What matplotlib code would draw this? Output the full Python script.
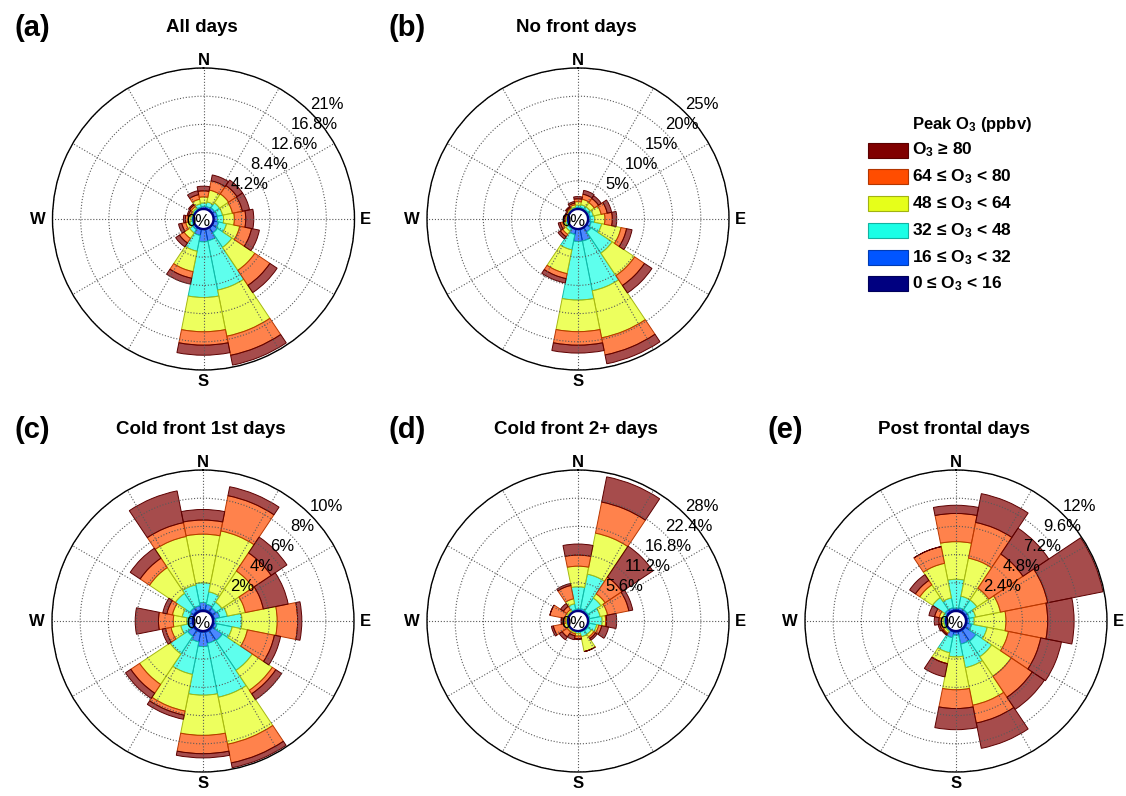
import numpy as np
import matplotlib
matplotlib.use("Agg")
import matplotlib.pyplot as plt
from matplotlib.colors import to_rgb
from matplotlib.patches import Rectangle

plt.rcParams['font.family'] = ['Liberation Sans', 'DejaVu Sans']
plt.rcParams['mathtext.default'] = 'regular'

W, H = 1126, 796

dirs = ["N", "NNE", "NE", "ENE", "E", "ESE", "SE", "SSE",
        "S", "SSW", "SW", "WSW", "W", "WNW", "NW", "NNW"]
# classes, inner to outer
classes = ["0 \u2264 O$_3$ < 16", "16 \u2264 O$_3$ < 32", "32 \u2264 O$_3$ < 48",
           "48 \u2264 O$_3$ < 64", "64 \u2264 O$_3$ < 80", "O$_3$ \u2265 80"]
class_colors = ["#000080", "#0055ff", "#1affe6", "#e6ff1a", "#ff4d00", "#800000"]

# cumulative frequency (%) at the outer edge of each class, one row per direction
all_days = [
    [0.1, 0.4, 0.9, 1.8, 2.7, 3.4],
    [0.1, 0.4, 1.1, 2.9, 4.3, 5.2],
    [0.1, 0.5, 1.4, 3.0, 4.5, 5.5],
    [0.1, 0.6, 1.4, 2.9, 4.4, 5.5],
    [0.1, 0.6, 1.5, 3.1, 4.8, 6.0],
    [0.1, 0.8, 2.0, 4.0, 5.8, 7.0],
    [0.1, 1.0, 3.6, 7.7, 10.4, 11.7],
    [0.1, 1.8, 9.3, 16.3, 19.2, 20.7],
    [0.1, 1.9, 10.2, 15.3, 17.3, 18.8],
    [0.1, 1.0, 3.4, 6.5, 7.5, 8.4],
    [0.1, 0.4, 1.0, 2.0, 2.8, 3.5],
    [0.05, 0.2, 0.6, 1.2, 1.8, 2.3],
    [0.05, 0.15, 0.4, 0.8, 1.2, 1.5],
    [0.05, 0.1, 0.3, 0.5, 0.8, 1.0],
    [0.05, 0.15, 0.4, 0.7, 1.0, 1.2],
    [0.05, 0.3, 0.8, 1.5, 2.2, 2.8],
]
no_front = [
    [0.05, 0.3, 0.7, 1.3, 1.8, 2.2],
    [0.05, 0.3, 0.8, 1.8, 2.7, 3.4],
    [0.05, 0.3, 0.8, 1.7, 2.6, 3.2],
    [0.05, 0.4, 1.0, 2.4, 3.5, 4.3],
    [0.05, 0.4, 1.2, 3.0, 4.3, 5.1],
    [0.1, 0.6, 2.5, 6.0, 7.0, 8.0],
    [0.1, 1.0, 5.5, 10.3, 12.4, 14.0],
    [0.1, 2.2, 11.2, 19.7, 22.8, 24.4],
    [0.1, 2.2, 12.6, 18.2, 20.6, 22.0],
    [0.1, 1.0, 3.8, 8.1, 9.0, 9.8],
    [0.05, 0.3, 0.8, 1.5, 2.0, 2.5],
    [0.05, 0.2, 0.5, 1.0, 1.4, 1.8],
    [0.05, 0.1, 0.3, 0.5, 0.6, 0.8],
    [0.05, 0.1, 0.2, 0.4, 0.5, 0.6],
    [0.05, 0.1, 0.3, 0.5, 0.7, 0.9],
    [0.05, 0.2, 0.4, 0.8, 1.1, 1.4],
]
cold_front_1st = [
    [0.1, 0.6, 2.0, 5.45, 6.45, 7.2],
    [0.1, 0.5, 1.4, 5.8, 8.35, 9.0],
    [0.1, 0.4, 0.9, 3.55, 5.1, 6.45],
    [0.1, 0.5, 1.05, 2.35, 3.65, 5.45],
    [0.05, 0.2, 2.05, 4.55, 6.0, 6.3],
    [0.1, 0.3, 1.4, 2.5, 4.45, 4.9],
    [0.1, 0.95, 3.5, 5.2, 5.5, 6.0],
    [0.1, 0.9, 4.8, 8.2, 9.55, 9.9],
    [0.1, 1.1, 4.55, 7.4, 8.7, 9.0],
    [0.1, 0.8, 3.15, 5.8, 6.1, 6.4],
    [0.1, 0.6, 2.1, 4.7, 5.45, 5.9],
    [0.05, 0.3, 0.9, 1.6, 2.0, 2.25],
    [0.05, 0.3, 0.45, 1.4, 2.45, 4.1],
    [0.05, 0.3, 0.8, 1.5, 1.9, 2.2],
    [0.1, 0.4, 1.65, 3.85, 4.65, 5.5],
    [0.1, 0.4, 1.9, 5.4, 6.4, 8.7],
]
cold_front_2plus = [
    [0.1, 0.4, 4.8, 8.9, 11.1, 13.3],
    [0.1, 0.5, 7.5, 15.8, 22.1, 27.2],
    [0.1, 0.4, 3.5, 4.5, 8.5, 15.9],
    [0.1, 0.4, 2.5, 4.0, 8.3, 9.1],
    [0.05, 0.3, 2.8, 3.5, 3.7, 5.7],
    [0.05, 0.3, 1.8, 2.2, 2.8, 4.2],
    [0.05, 0.3, 1.2, 1.8, 2.2, 2.6],
    [0.05, 0.2, 1.2, 4.2, 4.2, 4.2],
    [0.05, 0.1, 0.5, 1.0, 1.5, 1.7],
    [0.05, 0.1, 0.3, 0.6, 1.0, 1.8],
    [0.05, 0.1, 0.3, 0.6, 1.8, 2.5],
    [0.05, 0.1, 0.3, 0.8, 3.0, 3.4],
    [0.05, 0.1, 0.3, 0.6, 1.2, 1.4],
    [0.05, 0.1, 0.3, 0.7, 3.7, 3.7],
    [0.05, 0.1, 0.3, 0.7, 1.5, 2.2],
    [0.05, 0.3, 1.5, 2.5, 5.2, 5.6],
]
post_frontal = [
    [0.1, 0.25, 2.7, 5.9, 8.3, 9.0],
    [0.1, 0.3, 1.3, 4.6, 7.7, 10.2],
    [0.1, 0.3, 1.3, 2.5, 6.0, 8.65],
    [0.1, 0.3, 0.85, 3.0, 7.1, 11.9],
    [0.1, 0.3, 0.7, 3.4, 6.95, 9.2],
    [0.1, 0.5, 1.85, 3.7, 6.5, 8.3],
    [0.1, 1.2, 2.8, 4.8, 6.95, 8.2],
    [0.1, 1.15, 3.2, 6.45, 8.0, 10.2],
    [0.1, 0.35, 2.2, 5.0, 6.6, 8.4],
    [0.1, 0.6, 1.9, 2.85, 2.85, 4.0],
    [0.05, 0.1, 0.2, 0.4, 0.5, 0.6],
    [0.05, 0.1, 0.2, 0.4, 0.55, 0.7],
    [0.05, 0.1, 0.2, 0.4, 0.6, 1.0],
    [0.05, 0.1, 0.3, 0.6, 1.0, 1.5],
    [0.1, 0.3, 1.55, 2.85, 3.3, 3.9],
    [0.1, 0.3, 1.15, 4.15, 5.6, 5.6],
]
scale_max = [21, 25, 10, 28, 12]
titles = ["All days", "No front days", "Cold front 1st days",
          "Cold front 2+ days", "Post frontal days"]
letters = ["(a)", "(b)", "(c)", "(d)", "(e)"]

fig = plt.figure(figsize=(W / 100, H / 100), dpi=100)

R = 151      # outer circle radius (px)
HOLE = 10    # empty centre radius (px)


def rose(data, rmax, cx, cy, title, letter):
    hole = rmax * HOLE / (R - HOLE)
    ax = fig.add_axes([(cx - R) / W, 1 - (cy + R) / H, 2 * R / W, 2 * R / H],
                      projection="polar")
    ax.set_theta_zero_location("N")
    ax.set_theta_direction(-1)
    theta = np.radians(np.arange(len(dirs)) * 22.5)
    cum = np.array(data)
    prev = np.zeros(len(dirs))
    for k, col in enumerate(class_colors):
        rgb = to_rgb(col)
        ax.bar(theta, cum[:, k] - prev, width=np.radians(22.5), bottom=prev,
               facecolor=(*rgb, 0.7), edgecolor=tuple(c * 0.72 for c in rgb),
               linewidth=0.7, zorder=1)
        prev = cum[:, k]
    ax.set_ylim(0, rmax)
    ax.set_rorigin(-hole)
    rings = np.round(np.linspace(rmax / 5, rmax, 5), 2)
    ax.set_yticks(rings)
    ax.set_yticklabels([])
    ax.set_xticks(np.radians(np.arange(0, 360, 30)))
    ax.set_xticklabels([])
    ax.grid(True, color="0.35", linestyle=":", linewidth=0.8)
    ax.spines["polar"].set_linewidth(1.0)
    ax.spines["inner"].set_color("#000080")
    ax.spines["inner"].set_linewidth(1.6)
    for r in rings:
        ax.text(np.radians(45), r, f"{r:g}%", ha="left", va="bottom",
                fontsize=12, zorder=5)
    ax.annotate("0%", xy=(0.5, 0.5), xycoords="axes fraction",
                xytext=(-3.5, -2), textcoords="offset points",
                ha="center", va="center", fontsize=12, zorder=5)
    for lab, x, y in [("N", 0.5, 0.5 + 0.5 * 1.05), ("S", 0.5, 0.5 - 0.5 * 1.075),
                      ("E", 0.5 + 0.5 * 1.075, 0.5), ("W", 0.5 - 0.5 * 1.10, 0.5)]:
        ax.text(x, y, lab, transform=ax.transAxes, ha="center", va="center",
                fontsize=12, fontweight="bold")
    ty = cy - 192
    fig.text((cx - 2) / W, 1 - ty / H, title, ha="center", va="center",
             fontsize=13.5, fontweight="bold")
    fig.text((cx - 171) / W, 1 - (ty + 1) / H, letter, ha="center", va="center",
             fontsize=21, fontweight="bold")


centres = [(203.5, 219), (578, 219), (203, 621), (578, 621), (956, 621)]
panels = [all_days, no_front, cold_front_1st, cold_front_2plus, post_frontal]
for data, rmax, (cx, cy), title, letter in zip(panels, scale_max, centres, titles, letters):
    rose(data, rmax, cx, cy, title, letter)

# legend, top entry = highest class
fig.text(912 / W, 1 - 125 / H, "Peak O$_3$ (ppbv)", ha="left", va="center",
         fontsize=12, fontweight="bold")
for i, (lab, col) in enumerate(zip(classes[::-1], class_colors[::-1])):
    yc = 150 + 26.8 * i
    fig.add_artist(Rectangle((868 / W, 1 - (yc + 7.5) / H), 40 / W, 15 / H,
                             transform=fig.transFigure, facecolor=col,
                             edgecolor=tuple(c * 0.7 for c in to_rgb(col)),
                             linewidth=0.8))
    fig.text(912 / W, 1 - yc / H, lab, ha="left", va="center",
             fontsize=12.5, fontweight="bold")

fig.savefig("out.png", dpi=100)
